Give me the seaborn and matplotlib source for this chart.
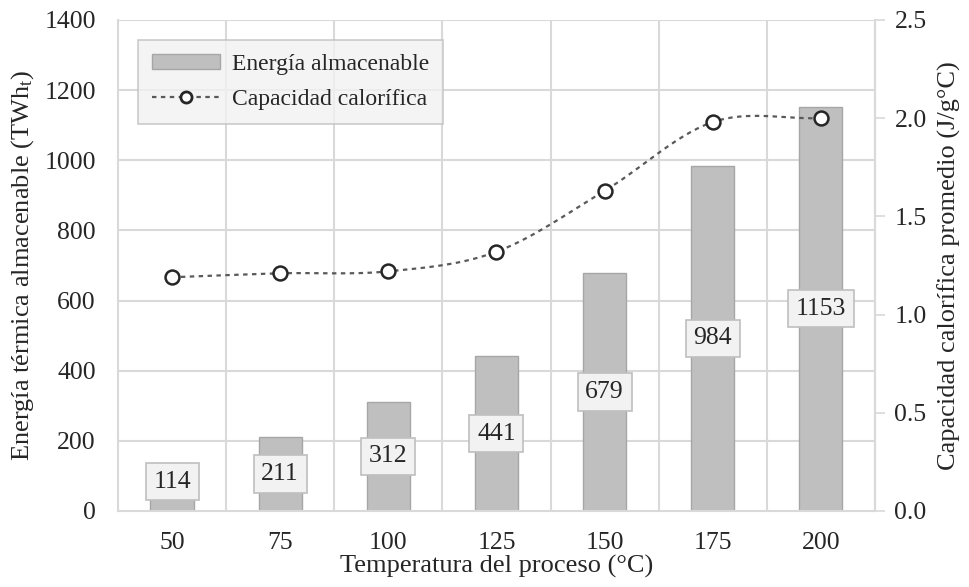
import numpy as np
import pandas as pd
import matplotlib
matplotlib.use("Agg")
import matplotlib.pyplot as plt
import seaborn as sns
from matplotlib.lines import Line2D
from matplotlib.patches import Patch

temperatures = ["50", "75", "100", "125", "150", "175", "200"]
energy = [114, 211, 312, 441, 679, 984, 1153]
capacity = [1.19, 1.21, 1.22, 1.32, 1.63, 1.98, 2.00]
left_ticks = [0, 200, 400, 600, 800, 1000, 1200, 1400]
right_ticks = [0.0, 0.5, 1.0, 1.5, 2.0, 2.5]

sns.set_theme(style="white")
plt.rcParams["font.family"] = ["Liberation Serif", "DejaVu Serif"]
plt.rcParams["mathtext.fontset"] = "custom"
plt.rcParams["mathtext.rm"] = "Liberation Serif"
plt.rcParams["mathtext.it"] = "Liberation Serif"

FS = 18.5
LFS = 19
grid_c = "#d9d9d9"
text_c = "#262626"

fig = plt.figure(figsize=(9.7, 5.87), dpi=100)
ax = fig.add_axes([0.1216, 0.1295, 0.902 - 0.1216, 0.966 - 0.1295])

df = pd.DataFrame({"Temperatura": temperatures, "Energia": energy, "Cp": capacity})
sns.barplot(data=df, x="Temperatura", y="Energia", color="#bfbfbf", width=0.4,
            edgecolor="#a6a6a6", linewidth=1.0, saturation=1, ax=ax, zorder=2)

ax.set_xlim(-0.5, len(temperatures) - 0.5)
ax.set_ylim(0, 1400)
ax.set_yticks(left_ticks)
ax.set_yticklabels([str(t) for t in left_ticks])
ax.tick_params(axis="y", labelsize=FS, colors=text_c, length=0, pad=16)
ax.tick_params(axis="x", labelsize=FS, colors=text_c, length=0, pad=15)
for y in left_ticks[1:]:
    ax.axhline(y, color=grid_c, lw=1.5, zorder=0)
for xb in np.arange(0.5, len(temperatures) - 1, 1.0):
    ax.axvline(xb, color=grid_c, lw=1.5, zorder=0)
ax.spines["top"].set_visible(False)
for s in ["left", "bottom", "right"]:
    ax.spines[s].set_color(grid_c)
    ax.spines[s].set_linewidth(1.5)

ax.set_xlabel("Temperatura del proceso (°C)", fontsize=LFS, color=text_c, labelpad=1)
ax.set_ylabel("Energía térmica almacenable (TWh$_\\mathregular{t}$)", fontsize=LFS,
              color=text_c, labelpad=6)

# value labels
for i, v in enumerate(energy):
    ax.text(i, max(v / 2, 84), str(v), ha="center", va="center", fontsize=FS,
            color=text_c, zorder=5,
            bbox=dict(boxstyle="square,pad=0.3", fc="#f2f2f2", ec="#bfbfbf", lw=1.2))

# secondary axis
ax2 = ax.twinx()
ax2.set_ylim(0, 2.5)
ax2.set_yticks(right_ticks)
ax2.set_yticklabels([f"{t:.1f}" for t in right_ticks])
ax2.tick_params(axis="y", labelsize=FS, colors=text_c, length=7, width=1.2, pad=7)
ax2.tick_params(axis="y", color=grid_c)
for s in ["top", "left", "bottom"]:
    ax2.spines[s].set_visible(False)
ax2.spines["right"].set_color(grid_c)
ax2.spines["right"].set_linewidth(1.5)
ax2.set_ylabel("Capacidad calorífica promedio (J/g°C)", fontsize=LFS, color=text_c,
               labelpad=8)

# smoothed (Catmull-Rom) rendering of the series, as in the spreadsheet chart
xs = np.arange(len(capacity), dtype=float)
ys = np.array(capacity, dtype=float)
px = np.concatenate([[2 * xs[0] - xs[1]], xs, [2 * xs[-1] - xs[-2]]])
py = np.concatenate([[2 * ys[0] - ys[1]], ys, [2 * ys[-1] - ys[-2]]])
cx, cy = [], []
t = np.linspace(0, 1, 30)
for k in range(1, len(px) - 2):
    p0, p1, p2, p3 = [np.array([px[j], py[j]]) for j in range(k - 1, k + 3)]
    pts = 0.5 * ((2 * p1)[:, None] + (-p0 + p2)[:, None] * t
                 + (2 * p0 - 5 * p1 + 4 * p2 - p3)[:, None] * t ** 2
                 + (-p0 + 3 * p1 - 3 * p2 + p3)[:, None] * t ** 3)
    cx.extend(pts[0]); cy.extend(pts[1])
ax2.plot(cx, cy, color="#595959", lw=1.6, ls=(0, (2, 2)), zorder=3)
sns.scatterplot(x=xs, y=ys, ax=ax2, s=100, facecolor="white", edgecolor="#262626",
                linewidth=1.8, zorder=4, legend=False)

handles = [Patch(facecolor="#bfbfbf", edgecolor="#a6a6a6", label="Energía almacenable"),
           Line2D([0], [0], color="#595959", lw=1.6, ls=(0, (2, 2)), marker="o",
                  markersize=8, markerfacecolor="white", markeredgecolor="#262626",
                  markeredgewidth=2, label="Capacidad calorífica")]
leg = ax2.legend(handles=handles, loc="upper left", bbox_to_anchor=(0.026, 0.96),
                 borderaxespad=0, fontsize=17, frameon=True, fancybox=False,
                 handlelength=2.9, handleheight=0.55, handletextpad=0.5,
                 borderpad=0.6, labelspacing=0.6)
leg.get_frame().set_facecolor("#f2f2f2")
leg.get_frame().set_edgecolor("#bfbfbf")
leg.get_frame().set_linewidth(1.2)
for txt in leg.get_texts():
    txt.set_color(text_c)

fig.savefig("out.png", dpi=100)
